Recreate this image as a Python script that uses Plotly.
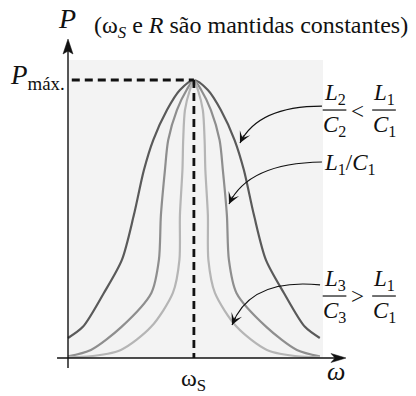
import plotly.graph_objects as go

# Resonance curves: power P (as a fraction of P_max) against the half-width
# |omega - omega_S| (omega_S = 1) at which each power level is reached.
P_DARK = [1.0, 0.964, 0.892, 0.784, 0.676, 0.514, 0.353, 0.234, 0.112, 0.072]
HW_DARK = [0.0, 0.111, 0.214, 0.323, 0.397, 0.477, 0.572, 0.715, 0.882, 1.0]

P_MID = [1.0, 0.964, 0.892, 0.784, 0.676, 0.514, 0.353, 0.234, 0.112, 0.029, 0.006]
HW_MID = [0.0, 0.058, 0.135, 0.204, 0.23, 0.262, 0.278, 0.338, 0.575, 0.818, 1.0]

P_LIGHT = [1.0, 0.964, 0.892, 0.784, 0.676, 0.514, 0.353, 0.234, 0.112, 0.029, 0.005, 0.004]
HW_LIGHT = [0.0, 0.032, 0.071, 0.085, 0.091, 0.111, 0.115, 0.167, 0.34, 0.58, 0.85, 1.0]

OMEGA_S = 1.0
P_MAX = 1.0

SERIES = [
    (P_DARK, HW_DARK, "#5a5a5a"),
    (P_MID, HW_MID, "#8e8e8e"),
    (P_LIGHT, HW_LIGHT, "#b5b5b5"),
]

FONT = "Liberation Serif, Times New Roman, serif"
INK = "#111111"

fig = go.Figure()

for p, hw, color in SERIES:
    xs = [OMEGA_S - h for h in reversed(hw)] + [OMEGA_S + h for h in hw[1:]]
    ys = list(reversed(p)) + p[1:]
    fig.add_trace(go.Scatter(
        x=xs, y=ys, mode="lines",
        line=dict(color=color, width=2.2, shape="spline", smoothing=0.8),
        hoverinfo="skip", showlegend=False,
    ))

# dashed guides to the peak
fig.add_trace(go.Scatter(
    x=[0.03, OMEGA_S], y=[P_MAX, P_MAX], mode="lines",
    line=dict(color=INK, width=2.8, dash="8px,5px"),
    hoverinfo="skip", showlegend=False,
))
fig.add_trace(go.Scatter(
    x=[OMEGA_S, OMEGA_S], y=[P_MAX, 0], mode="lines",
    line=dict(color=INK, width=2.8, dash="8px,5px"),
    hoverinfo="skip", showlegend=False,
))

shapes = []
# shaded panel
shapes.append(dict(type="rect", xref="x", yref="y", x0=0, x1=2.025, y0=0, y1=1.072,
                   fillcolor="#f3f3f3", line=dict(width=0), layer="below"))
# axes
shapes.append(dict(type="line", xref="x", yref="y", x0=0, x1=0, y0=-0.036, y1=1.12,
                   line=dict(color=INK, width=1.4)))
shapes.append(dict(type="line", xref="x", yref="y", x0=-0.087, x1=2.17, y0=0, y1=0,
                   line=dict(color=INK, width=1.4)))
# axis arrowheads
shapes.append(dict(type="path", xref="x", yref="y",
                   path="M 0,1.1475 L 0.0397,1.0935 L 0,1.104 L -0.0397,1.0935 Z",
                   fillcolor=INK, line=dict(color=INK, width=0.5)))
shapes.append(dict(type="path", xref="x", yref="y",
                   path="M 2.208,0 L 2.089,0.0162 L 2.121,0 L 2.089,-0.0162 Z",
                   fillcolor=INK, line=dict(color=INK, width=0.5)))
# curved pointer lines
pointers = [
    ((2.017, 0.906), (1.509, 0.906), (1.366, 0.773), (4.4, -9.0)),
    ((2.017, 0.705), (1.430, 0.701), (1.279, 0.554), (4.2, -9.1)),
    ((2.002, 0.263), (1.445, 0.288), (1.303, 0.119), (4.1, -9.1)),
]
for (x0, y0), (cx, cy), (x1, y1), _ in pointers:
    shapes.append(dict(type="path", xref="x", yref="y",
                       path=f"M {x0},{y0} Q {cx},{cy} {x1},{y1}",
                       line=dict(color=INK, width=1.2)))

annotations = []
for _, _, (x1, y1), (ax, ay) in pointers:
    annotations.append(dict(x=x1, y=y1, xref="x", yref="y", ax=ax, ay=ay, text="",
                            showarrow=True, arrowhead=3, arrowsize=1.6, arrowwidth=1.2,
                            arrowcolor=INK, standoff=0))


def text(x, y, s, size=23, xanchor="center", yanchor="middle"):
    annotations.append(dict(x=x, y=y, xref="x", yref="y", text=s, showarrow=False,
                            xanchor=xanchor, yanchor=yanchor, borderpad=0,
                            font=dict(family=FONT, size=size, color=INK)))


def fraction(xc, yb, num, den, half=0.094, size=23):
    shapes.append(dict(type="line", xref="x", yref="y", x0=xc - half, x1=xc + half,
                       y0=yb, y1=yb, line=dict(color=INK, width=1.2)))
    text(xc, yb + 0.002, num, size=size, yanchor="bottom")
    text(xc, yb - 0.004, den, size=size, yanchor="top")


text(-0.008, 1.222, "<i>P</i>", size=28)
text(0.199, 1.19, "(ω<sub><i>S</i></sub> e <i>R</i> são mantidas constantes)",
     size=24, xanchor="left")
text(-0.016, 1.01, "<i>P</i><sub>máx.</sub>", size=27, xanchor="right")
text(2.129, -0.05, "<i>ω</i>", size=26)
text(OMEGA_S, -0.08, "ω<sub>S</sub>", size=24)

fraction(2.117, 0.892, "<i>L</i><sub>2</sub>", "<i>C</i><sub>2</sub>")
text(2.303, 0.888, "<")
fraction(2.51, 0.892, "<i>L</i><sub>1</sub>", "<i>C</i><sub>1</sub>")

text(2.022, 0.698, "<i>L</i><sub>1</sub>/<i>C</i><sub>1</sub>", xanchor="left")

fraction(2.117, 0.223, "<i>L</i><sub>3</sub>", "<i>C</i><sub>3</sub>")
text(2.303, 0.223, ">")
fraction(2.51, 0.223, "<i>L</i><sub>1</sub>", "<i>C</i><sub>1</sub>")

fig.update_layout(
    width=416, height=396,
    margin=dict(l=0, r=0, t=0, b=0),
    paper_bgcolor="white", plot_bgcolor="white",
    shapes=shapes, annotations=annotations,
    xaxis=dict(range=[-68 / 125.9, (416 - 68) / 125.9], visible=False, fixedrange=True),
    yaxis=dict(range=[(358 - 396) / 278, 358 / 278], visible=False, fixedrange=True),
    showlegend=False,
)

fig.write_html("out.html")
